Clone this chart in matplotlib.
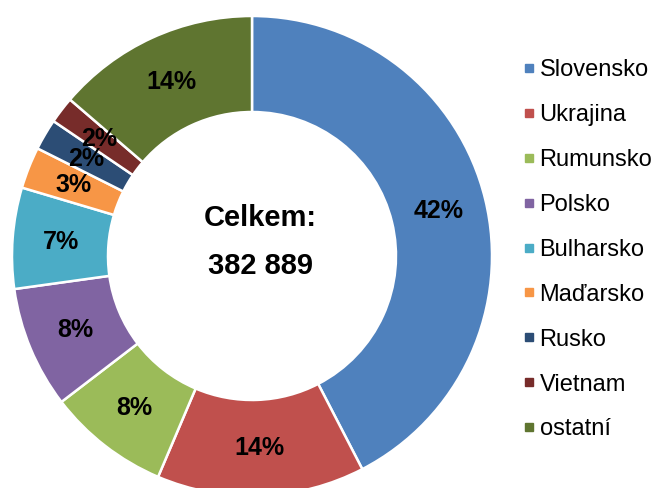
import matplotlib.pyplot as plt
from matplotlib.lines import Line2D

plt.rcParams['font.family'] = ['Liberation Sans', 'DejaVu Sans']

countries = ["Slovensko", "Ukrajina", "Rumunsko", "Polsko", "Bulharsko",
             "Maďarsko", "Rusko", "Vietnam", "ostatní"]
shares = [42.4, 14.0, 8.2, 8.2, 6.8, 2.8, 2.1, 1.8, 13.7]
colors = ["#4F81BD", "#C0504D", "#9BBB59", "#8064A2", "#4BACC6",
          "#F79646", "#2C4D75", "#772C2A", "#5F7530"]
total_title = "Celkem:"
total_value = "382 889"

fig = plt.figure(figsize=(6.56, 4.88), dpi=100)
# pie centred at (252, 256) px from top, radius 240 px
ax = fig.add_axes([12 / 656, (232 - 240) / 488, 480 / 656, 480 / 488])

wedges, texts, autotexts = ax.pie(
    shares, colors=colors, startangle=90, counterclock=False,
    radius=1, autopct="%.0f%%", pctdistance=0.8,
    wedgeprops=dict(width=0.4, edgecolor="white", linewidth=1.8),
    textprops=dict(fontsize=18, fontweight="bold", color="black"))
ax.set_xlim(-1, 1)
ax.set_ylim(-1, 1)
ax.set_aspect("equal")

# total in the hole, slightly right of centre like the original
ax.text(0.035, 0.16, total_title, ha="center", va="center", fontsize=21,
        fontweight="bold")
ax.text(0.035, -0.04, total_value, ha="center", va="center", fontsize=21,
        fontweight="bold")

handles = [Line2D([], [], marker="s", linestyle="none", markersize=5.5,
                  markerfacecolor=c, markeredgecolor=c) for c in colors]
fig.legend(handles, countries, loc="center left",
           bbox_to_anchor=(510 / 656, 0.488), frameon=False, fontsize=17,
           handlelength=0.6, handletextpad=0.15, labelspacing=0.97,
           borderpad=0)

fig.savefig("out.png", dpi=100)
